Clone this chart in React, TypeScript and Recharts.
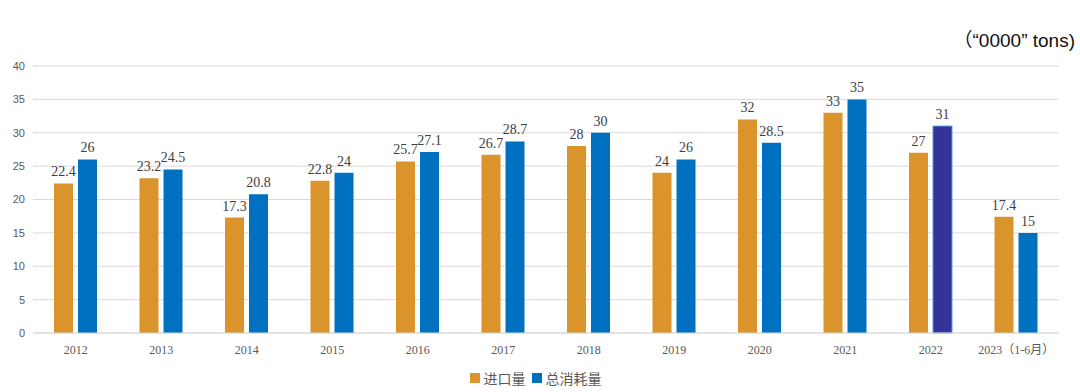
import { BarChart, Bar, XAxis, YAxis, CartesianGrid, Legend, LabelList, Cell } from "recharts";

const years = ["2012", "2013", "2014", "2015", "2016", "2017", "2018", "2019", "2020", "2021", "2022", "2023（1-6月）"];
const imports = [22.4, 23.2, 17.3, 22.8, 25.7, 26.7, 28, 24, 32, 33, 27, 17.4];
const consumption = [26, 24.5, 20.8, 24, 27.1, 28.7, 30, 26, 28.5, 35, 31, 15];
const yTicks = [0, 5, 10, 15, 20, 25, 30, 35, 40];

const data = years.map((year, i) => ({ year, imports: imports[i], consumption: consumption[i] }));

const ORANGE = "#DA942B";
const BLUE = "#0070C0";

const legendItems = [
  { name: "进口量", color: ORANGE },
  { name: "总消耗量", color: BLUE },
];

function LegendContent() {
  return (
    <div
      style={{
        display: "flex",
        justifyContent: "center",
        gap: 6,
        paddingLeft: 12,
        fontSize: 14,
        fontFamily: "'Noto Sans CJK SC', sans-serif",
        color: "#595959",
      }}
    >
      {legendItems.map((it) => (
        <span key={it.name} style={{ display: "inline-flex", alignItems: "center" }}>
          <span style={{ width: 10, height: 10, background: it.color, marginRight: 4, display: "inline-block" }} />
          {it.name}
        </span>
      ))}
    </div>
  );
}

export default function App() {
  return (
    <div style={{ position: "fixed", left: 0, top: 0, width: 1080, height: 392, background: "#fff" }}>
      <div
        style={{
          position: "absolute",
          right: 5,
          top: 25,
          fontFamily: "Arial, 'Liberation Sans', 'Noto Sans CJK SC', sans-serif",
          fontSize: 19,
          color: "#111",
        }}
      >
        （“0000” tons)
      </div>
      <BarChart
        width={1080}
        height={392}
        data={data}
        margin={{ top: 66, right: 21, left: 0, bottom: 9 }}
        barSize={19}
        barGap={5}
      >
        <CartesianGrid vertical={false} stroke="#D9D9D9" />
        <XAxis
          dataKey="year"
          axisLine={{ stroke: "#D9D9D9" }}
          tickLine={false}
          interval={0}
          height={30}
          tick={{ fill: "#595959", fontSize: 12, fontFamily: "'Liberation Serif', 'Noto Sans CJK SC', serif" }}
          tickMargin={6}
        />
        <YAxis
          domain={[0, 40]}
          ticks={yTicks}
          width={33}
          axisLine={false}
          tickLine={false}
          tick={{ fill: "#595959", fontSize: 11, fontFamily: "Arial, 'Liberation Sans', sans-serif" }}
        />
        <Legend verticalAlign="bottom" content={<LegendContent />} wrapperStyle={{ bottom: 4 }} />
        <Bar dataKey="imports" name="进口量" fill={ORANGE} isAnimationActive={false}>
          <LabelList
            dataKey="imports"
            position="top"
            offset={7}
            style={{ fill: "#404040", fontSize: 14, fontFamily: "'Liberation Serif', serif" }}
          />
        </Bar>
        <Bar dataKey="consumption" name="总消耗量" fill={BLUE} isAnimationActive={false}>
          {data.map((d, i) =>
            d.year === "2022" ? (
              <Cell key={i} fill="#333399" stroke="#5B9BD5" strokeWidth={1} />
            ) : (
              <Cell key={i} fill={BLUE} />
            )
          )}
          <LabelList
            dataKey="consumption"
            position="top"
            offset={7}
            style={{ fill: "#404040", fontSize: 14, fontFamily: "'Liberation Serif', serif" }}
          />
        </Bar>
      </BarChart>
    </div>
  );
}
